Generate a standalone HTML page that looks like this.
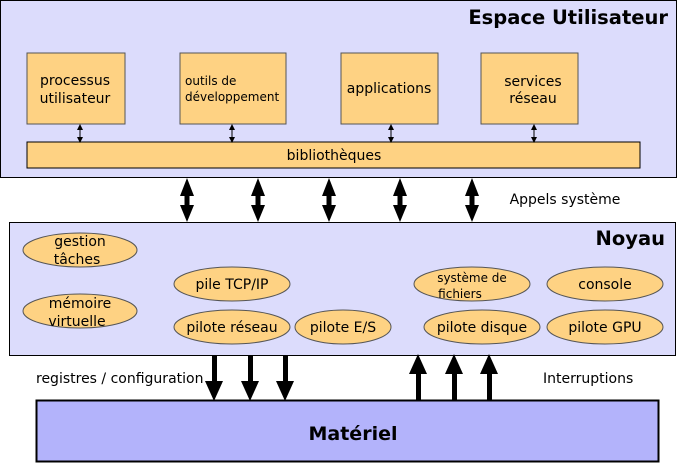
<!DOCTYPE html>
<html><head><meta charset="utf-8"><style>body{margin:0;background:#fff}svg{display:block}</style></head><body>
<svg width="677" height="463" viewBox="0 0 677 463" xmlns="http://www.w3.org/2000/svg" font-family="DejaVu Sans, Liberation Sans, sans-serif">
<defs>
<marker id="s" markerWidth="6" markerHeight="6" refX="3" refY="3" orient="auto-start-reverse" markerUnits="userSpaceOnUse"><path d="M0,0 L6,3 L0,6 z" fill="#000"/></marker>
<g id="da"><rect x="-2.5" y="190" width="5" height="20"/><path d="M-7,196 L0,178 L7,196 z M-7,205 L0,222 L7,205 z"/></g>
</defs>
<rect x="0.5" y="0.5" width="676" height="177" fill="#dcdcfc" stroke="#000"/>
<text x="668" y="24" text-anchor="end" font-weight="bold" font-size="19.5">Espace Utilisateur</text>
<g fill="#fed283" stroke="#555" stroke-width="1">
<rect x="27" y="53" width="98" height="71"/>
<rect x="180" y="53" width="106" height="71"/>
<rect x="341" y="53" width="97" height="71"/>
<rect x="481" y="53" width="97" height="71"/>
<rect x="27" y="142" width="613" height="26" stroke="#000"/>
</g>
<g font-size="14" fill="#000">
<text x="75" y="85" text-anchor="middle">processus</text>
<text x="75" y="103" text-anchor="middle">utilisateur</text>
<text x="185" y="85" font-size="12">outils de</text>
<text x="185" y="101" font-size="12">développement</text>
<text x="389" y="93" text-anchor="middle">applications</text>
<text x="533" y="86" text-anchor="middle">services</text>
<text x="533" y="103" text-anchor="middle">réseau</text>
<text x="334" y="160" text-anchor="middle">bibliothèques</text>
</g>
<g stroke="#000" stroke-width="1">
<line x1="80" y1="127" x2="80" y2="140" marker-start="url(#s)" marker-end="url(#s)"/>
<line x1="232" y1="127" x2="232" y2="140" marker-start="url(#s)" marker-end="url(#s)"/>
<line x1="391" y1="127" x2="391" y2="140" marker-start="url(#s)" marker-end="url(#s)"/>
<line x1="534" y1="127" x2="534" y2="140" marker-start="url(#s)" marker-end="url(#s)"/>
</g>
<g fill="#000">
<use href="#da" x="187"/><use href="#da" x="258"/><use href="#da" x="329"/><use href="#da" x="400"/><use href="#da" x="472"/>
</g>
<text x="565" y="204" text-anchor="middle" font-size="14">Appels système</text>
<rect x="9.5" y="222.5" width="666" height="133" fill="#dcdcfc" stroke="#000"/>
<text x="665" y="245" text-anchor="end" font-weight="bold" font-size="19.5">Noyau</text>
<g fill="#fed283" stroke="#555">
<ellipse cx="80" cy="250" rx="57" ry="17"/>
<ellipse cx="80" cy="311" rx="57" ry="17"/>
<ellipse cx="232" cy="284" rx="58" ry="17"/>
<ellipse cx="232" cy="327" rx="58" ry="17"/>
<ellipse cx="343" cy="327" rx="48" ry="17"/>
<ellipse cx="472" cy="284" rx="58" ry="17"/>
<ellipse cx="482" cy="327" rx="58" ry="17"/>
<ellipse cx="605" cy="284" rx="58" ry="17"/>
<ellipse cx="605" cy="327" rx="58" ry="17"/>
</g>
<g font-size="14" text-anchor="middle">
<text x="80" y="246">gestion</text><text x="77" y="264">tâches</text>
<text x="80" y="308">mémoire</text><text x="77" y="326">virtuelle</text>
<text x="232" y="289">pile TCP/IP</text>
<text x="232" y="332">pilote réseau</text>
<text x="343" y="332">pilote E/S</text>
<text x="472" y="282" font-size="12">système de</text><text x="460" y="298" font-size="12">fichiers</text>
<text x="482" y="332">pilote disque</text>
<text x="605" y="289">console</text>
<text x="605" y="332">pilote GPU</text>
</g>
<g fill="#000">
<rect x="212" y="355" width="5" height="28"/><path d="M205,381 L214,401 L223,381 z"/>
<rect x="248" y="355" width="5" height="28"/><path d="M241,381 L250,401 L259,381 z"/>
<rect x="283" y="355" width="5" height="28"/><path d="M276,381 L285,401 L294,381 z"/>
<rect x="416" y="372" width="5" height="28"/><path d="M409,374 L418,354 L427,374 z"/>
<rect x="452" y="372" width="5" height="28"/><path d="M445,374 L454,354 L463,374 z"/>
<rect x="487" y="372" width="5" height="28"/><path d="M480,374 L489,354 L498,374 z"/>
</g>
<text x="36" y="383" font-size="14">registres / configuration</text>
<text x="543" y="383" font-size="14">Interruptions</text>
<rect x="36.5" y="400.5" width="622" height="61" fill="#b3b3fb" stroke="#000" stroke-width="2"/>
<text x="353" y="440" text-anchor="middle" font-weight="bold" font-size="19">Matériel</text>
</svg>
</body></html>
